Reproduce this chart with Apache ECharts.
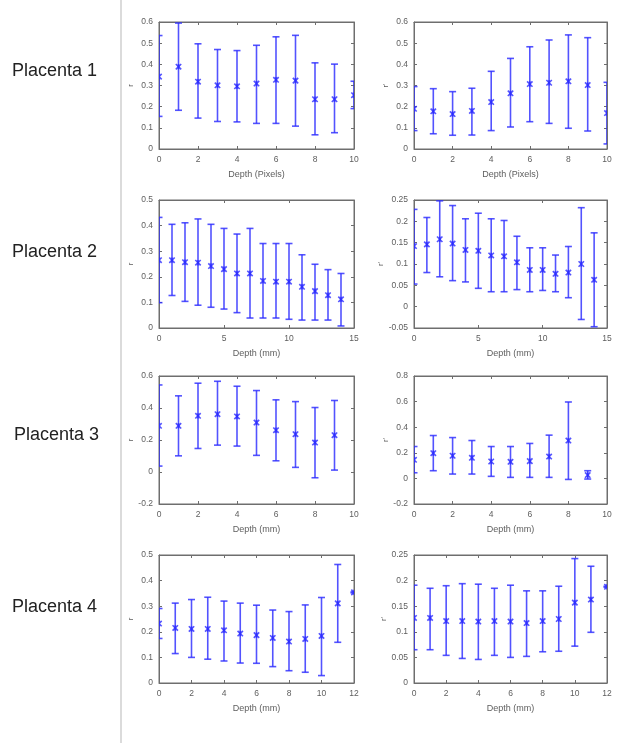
<!DOCTYPE html>
<html>
<head>
<meta charset="utf-8">
<script src="https://cdn.jsdelivr.net/npm/echarts@6/dist/echarts.min.js"></script>
<style>
html,body{margin:0;padding:0;background:#fff;}
#c{width:617px;height:743px;}
</style>
</head>
<body>
<div id="c"></div>
<script>
// ---- Data ----
const rowLabels = ['Placenta 1', 'Placenta 2', 'Placenta 3', 'Placenta 4'];
const xNames = ['Depth (Pixels)', 'Depth (mm)', 'Depth (mm)', 'Depth (mm)'];

// Placenta 1
const p1a_mean = [0.342, 0.389, 0.318, 0.301, 0.296, 0.309, 0.327, 0.323, 0.235, 0.235, 0.254];
const p1a_lo   = [0.154, 0.183, 0.146, 0.130, 0.128, 0.121, 0.121, 0.108, 0.067, 0.077, 0.191];
const p1a_hi   = [0.536, 0.595, 0.497, 0.470, 0.465, 0.490, 0.530, 0.537, 0.407, 0.401, 0.320];
const p1b_mean = [0.190, 0.178, 0.165, 0.180, 0.222, 0.263, 0.307, 0.313, 0.320, 0.302, 0.170];
const p1b_lo   = [0.087, 0.072, 0.065, 0.066, 0.087, 0.104, 0.129, 0.121, 0.098, 0.085, 0.024];
const p1b_hi   = [0.295, 0.285, 0.271, 0.287, 0.367, 0.428, 0.483, 0.515, 0.539, 0.526, 0.315];

// Placenta 2
const p2a_mean = [0.265, 0.265, 0.257, 0.255, 0.242, 0.230, 0.213, 0.213, 0.184, 0.181, 0.181, 0.161, 0.144, 0.128, 0.112];
const p2a_lo   = [0.099, 0.127, 0.104, 0.089, 0.081, 0.074, 0.060, 0.039, 0.039, 0.039, 0.034, 0.031, 0.031, 0.031, 0.008];
const p2a_hi   = [0.432, 0.405, 0.411, 0.426, 0.405, 0.389, 0.367, 0.389, 0.330, 0.330, 0.330, 0.286, 0.249, 0.228, 0.213];
const p2b_mean = [0.142, 0.146, 0.158, 0.148, 0.133, 0.131, 0.120, 0.118, 0.104, 0.086, 0.086, 0.077, 0.080, 0.100, 0.063];
const p2b_lo   = [0.053, 0.080, 0.070, 0.061, 0.058, 0.043, 0.035, 0.035, 0.040, 0.035, 0.038, 0.035, 0.021, -0.030, -0.047];
const p2b_hi   = [0.228, 0.209, 0.248, 0.237, 0.206, 0.219, 0.206, 0.202, 0.165, 0.138, 0.138, 0.121, 0.141, 0.232, 0.173];

// Placenta 3
const p3a_mean = [0.289, 0.289, 0.351, 0.361, 0.347, 0.309, 0.261, 0.236, 0.184, 0.230];
const p3a_lo   = [0.037, 0.101, 0.147, 0.168, 0.162, 0.104, 0.070, 0.029, -0.036, 0.012];
const p3a_hi   = [0.544, 0.476, 0.555, 0.567, 0.536, 0.509, 0.451, 0.440, 0.403, 0.447];
const p3b_mean = [0.145, 0.197, 0.177, 0.161, 0.132, 0.130, 0.135, 0.171, 0.296, 0.026];
const p3b_lo   = [0.044, 0.060, 0.034, 0.034, 0.016, 0.008, 0.008, 0.008, -0.008, -0.005];
const p3b_hi   = [0.249, 0.335, 0.319, 0.296, 0.249, 0.249, 0.273, 0.338, 0.597, 0.060];

// Placenta 4
const p4a_mean = [0.232, 0.215, 0.211, 0.211, 0.206, 0.193, 0.187, 0.176, 0.162, 0.172, 0.184, 0.311, 0.354];
const p4a_lo   = [0.174, 0.115, 0.100, 0.093, 0.086, 0.078, 0.077, 0.064, 0.048, 0.042, 0.029, 0.159, 0.352];
const p4a_hi   = [0.291, 0.312, 0.326, 0.335, 0.320, 0.312, 0.304, 0.285, 0.279, 0.305, 0.334, 0.463, 0.356];
const p4b_mean = [0.127, 0.127, 0.121, 0.121, 0.120, 0.121, 0.120, 0.117, 0.121, 0.125, 0.157, 0.163, 0.188];
const p4b_lo   = [0.065, 0.065, 0.054, 0.048, 0.046, 0.054, 0.050, 0.052, 0.061, 0.062, 0.072, 0.099, 0.187];
const p4b_hi   = [0.191, 0.185, 0.190, 0.194, 0.193, 0.185, 0.191, 0.180, 0.180, 0.189, 0.243, 0.228, 0.189];

// Axis ranges / ticks
const xMax = [10, 15, 10, 12];
const xStep = [2, 5, 2, 2];
const yLeftRange = [[0, 0.6, 0.1], [0, 0.5, 0.1], [-0.2, 0.6, 0.2], [0, 0.5, 0.1]];
const yRightRange = [[0, 0.6, 0.1], [-0.05, 0.25, 0.05], [-0.2, 0.8, 0.2], [0, 0.25, 0.05]];
const yNames = ['r', "r'"];

const panels = [
  [p1a_mean, p1a_lo, p1a_hi], [p1b_mean, p1b_lo, p1b_hi],
  [p2a_mean, p2a_lo, p2a_hi], [p2b_mean, p2b_lo, p2b_hi],
  [p3a_mean, p3a_lo, p3a_hi], [p3b_mean, p3b_lo, p3b_hi],
  [p4a_mean, p4a_lo, p4a_hi], [p4b_mean, p4b_lo, p4b_hi]
];

// ---- Layout ----
const rowTops = [22, 200, 376, 555];
const rowHeights = [127, 128, 128, 128];
const colLeft = [159, 414];
const colWidth = [195, 193];
const labelY = [72, 253, 436, 608];

const BLUE = 'rgba(45,45,255,0.82)';
const FRAME = '#6e6e6e';
const TXT = '#5e5e5e';
const FONT = 'Liberation Sans, Arial, sans-serif';

const chart = echarts.init(document.getElementById('c'), null, {renderer: 'canvas'});

const grids = [], xAxes = [], yAxes = [], series = [];

function renderErr(params, api) {
  const x = api.value(0), m = api.value(1), lo = api.value(2), hi = api.value(3);
  const pH = api.coord([x, hi]), pL = api.coord([x, lo]), pM = api.coord([x, m]);
  const w = 3.5, s = 2.7;
  const st = {stroke: BLUE, lineWidth: 1.6};
  return {
    type: 'group',
    children: [
      {type: 'line', shape: {x1: pH[0], y1: pH[1], x2: pL[0], y2: pL[1]}, style: st},
      {type: 'line', shape: {x1: pH[0] - w, y1: pH[1], x2: pH[0] + w, y2: pH[1]}, style: st},
      {type: 'line', shape: {x1: pL[0] - w, y1: pL[1], x2: pL[0] + w, y2: pL[1]}, style: st},
      {type: 'line', shape: {x1: pM[0] - s, y1: pM[1] - s, x2: pM[0] + s, y2: pM[1] + s}, style: st},
      {type: 'line', shape: {x1: pM[0] - s, y1: pM[1] + s, x2: pM[0] + s, y2: pM[1] - s}, style: st},
      {type: 'line', shape: {x1: pM[0], y1: pM[1] - s, x2: pM[0], y2: pM[1] + s}, style: st}
    ]
  };
}

for (let r = 0; r < 4; r++) {
  for (let c = 0; c < 2; c++) {
    const g = r * 2 + c;
    const yr = c === 0 ? yLeftRange[r] : yRightRange[r];
    grids.push({left: colLeft[c], top: rowTops[r], width: colWidth[c], height: rowHeights[r],
      show: true, borderColor: FRAME, borderWidth: 1, backgroundColor: '#fff', containLabel: false});
    const tickStyle = {show: true, inside: true, length: 3, lineStyle: {color: FRAME, width: 1}};
    xAxes.push({type: 'value', gridIndex: g, min: 0, max: xMax[r], interval: xStep[r], position: 'bottom',
      name: xNames[r], nameLocation: 'middle', nameGap: 21,
      nameTextStyle: {color: TXT, fontSize: 9, fontFamily: FONT},
      axisLine: {show: true, onZero: false, lineStyle: {color: FRAME, width: 1}},
      axisTick: tickStyle, splitLine: {show: false},
      axisLabel: {color: TXT, fontSize: 8.5, margin: 6, fontFamily: FONT}});
    xAxes.push({type: 'value', gridIndex: g, min: 0, max: xMax[r], interval: xStep[r], position: 'top',
      axisLine: {show: true, onZero: false, lineStyle: {color: FRAME, width: 1}},
      axisTick: tickStyle, splitLine: {show: false}, axisLabel: {show: false}});
    yAxes.push({type: 'value', gridIndex: g, min: yr[0], max: yr[1], interval: yr[2], position: 'left',
      name: yNames[c], nameLocation: 'middle', nameGap: 24, nameRotate: 90,
      nameTextStyle: {color: TXT, fontSize: 8, fontFamily: FONT},
      axisLine: {show: true, onZero: false, lineStyle: {color: FRAME, width: 1}},
      axisTick: tickStyle, splitLine: {show: false},
      axisLabel: {color: TXT, fontSize: 8.5, margin: 6, fontFamily: FONT}});
    yAxes.push({type: 'value', gridIndex: g, min: yr[0], max: yr[1], interval: yr[2], position: 'right',
      axisLine: {show: true, onZero: false, lineStyle: {color: FRAME, width: 1}},
      axisTick: tickStyle, splitLine: {show: false}, axisLabel: {show: false}});
    const [mean, lo, hi] = panels[g];
    series.push({
      type: 'custom', xAxisIndex: g * 2, yAxisIndex: g * 2, clip: true,
      renderItem: renderErr,
      encode: {x: 0, y: [1, 2, 3]},
      data: mean.map((m, i) => [i, m, lo[i], hi[i]]),
      silent: true, animation: false
    });
  }
}

const graphics = [
  {type: 'line', shape: {x1: 121, y1: 0, x2: 121, y2: 743}, style: {stroke: '#cfcfcf', lineWidth: 1.5}}
];
rowLabels.forEach((t, i) => {
  graphics.push({type: 'text', left: i === 2 ? 14 : 12, top: labelY[i] - 10,
    style: {text: t, fill: '#222', fontSize: 18, fontFamily: FONT}});
});

chart.setOption({
  animation: false,
  backgroundColor: '#fff',
  grid: grids,
  xAxis: xAxes,
  yAxis: yAxes,
  series: series,
  graphic: graphics
});
</script>
</body>
</html>
